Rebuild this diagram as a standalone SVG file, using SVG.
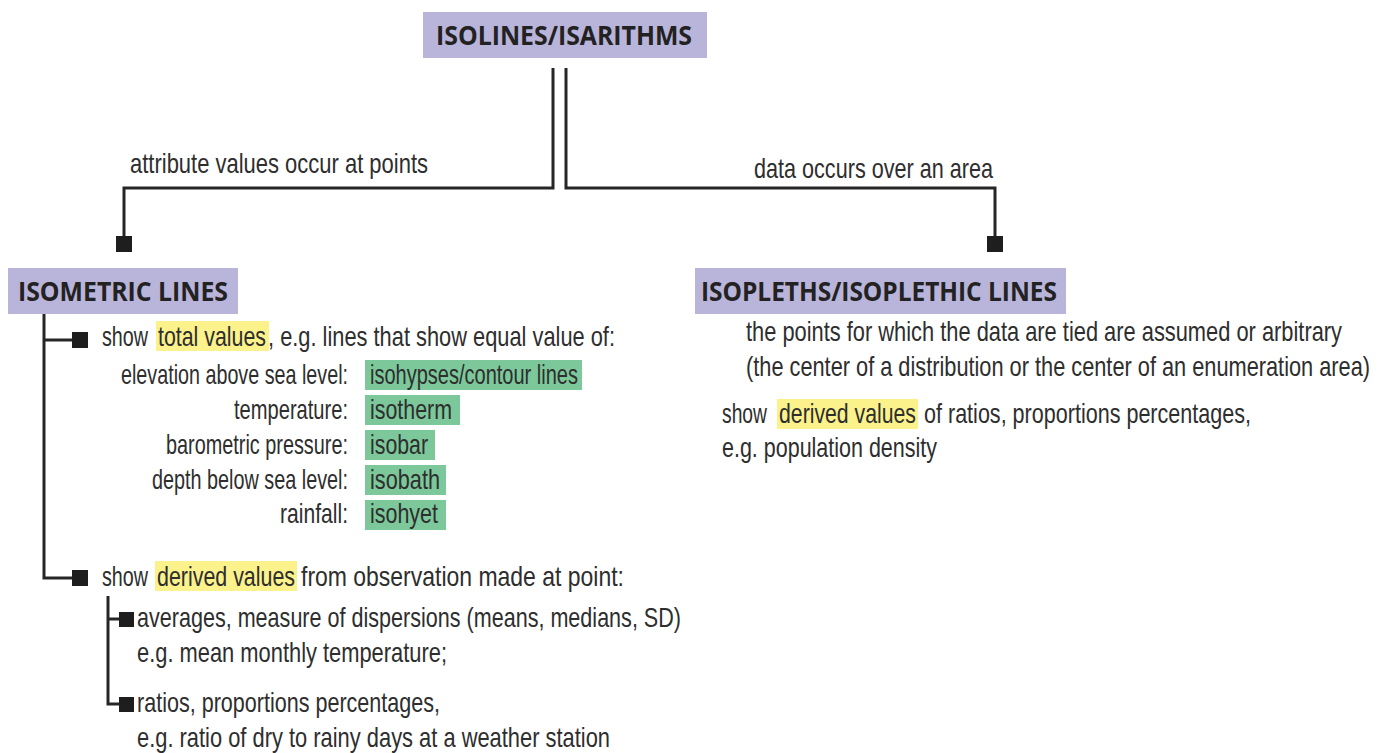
<svg xmlns="http://www.w3.org/2000/svg" width="1388" height="753" viewBox="0 0 1388 753">
<style>
.bg{fill:#ffffff}
.head{fill:#b9b4da}
.hl{fill:#fbf28c}
.gr{fill:#7cc89b}
.t{font-family:"Liberation Sans Narrow","Liberation Sans","DejaVu Sans Condensed",sans-serif;font-size:28px;fill:#2e2e2e}
.h{font-family:"Open Sans","Liberation Sans",sans-serif;font-weight:bold;font-size:26px;fill:#222222}
.ln{fill:none;stroke:#262626;stroke-width:3}
.sq{fill:#1e1e1e}
</style>
<rect class="bg" x="0" y="0" width="1388" height="753"/>
<g id="connectors">
<path class="ln" d="M553 68 V188 H124 V238"/>
<path class="ln" d="M566 68 V188 H995 V238"/>
<rect class="sq" x="116" y="236" width="16" height="16"/>
<rect class="sq" x="987" y="236" width="16" height="16"/>
<path class="ln" d="M44 314 V578 H74"/>
<path class="ln" d="M44 340 H74"/>
<rect class="sq" x="72" y="332" width="16" height="16"/>
<rect class="sq" x="72" y="570" width="16" height="16"/>
<path class="ln" d="M108 596 V704 H120"/>
<path class="ln" d="M108 619 H120"/>
<rect class="sq" x="119" y="612" width="15" height="15"/>
<rect class="sq" x="119" y="697" width="15" height="15"/>
<text class="t" x="130" y="173" textLength="298" lengthAdjust="spacingAndGlyphs">attribute values occur at points</text>
<text class="t" x="754" y="178" textLength="239" lengthAdjust="spacingAndGlyphs">data occurs over an area</text>
</g>
<g id="root">
<rect class="head" x="423" y="12" width="284" height="46"/>
<text class="h" x="436" y="45" textLength="256" lengthAdjust="spacingAndGlyphs">ISOLINES/ISARITHMS</text>
</g>
<g id="isometric">
<rect class="head" x="8" y="268" width="230" height="46"/>
<text class="h" x="18" y="301" textLength="210" lengthAdjust="spacingAndGlyphs">ISOMETRIC LINES</text>
</g>
<g id="isopleths">
<rect class="head" x="695" y="268" width="371" height="46"/>
<text class="h" x="701" y="301" textLength="356" lengthAdjust="spacingAndGlyphs">ISOPLETHS/ISOPLETHIC LINES</text>
</g>
<g id="total-values">
<rect class="hl" x="156" y="321" width="113" height="30"/>
<text class="t" x="102" y="346" textLength="46" lengthAdjust="spacingAndGlyphs">show</text>
<text class="t" x="158" y="346" textLength="108" lengthAdjust="spacingAndGlyphs">total values</text>
<text class="t" x="268" y="346" textLength="347" lengthAdjust="spacingAndGlyphs">, e.g. lines that show equal value of:</text>
<rect class="gr" x="365" y="360" width="217" height="30"/>
<rect class="gr" x="365" y="395" width="95" height="30"/>
<rect class="gr" x="365" y="430" width="70" height="30"/>
<rect class="gr" x="365" y="465" width="81" height="30"/>
<rect class="gr" x="365" y="500" width="81" height="30"/>
<text class="t" x="348" y="384" text-anchor="end" textLength="227" lengthAdjust="spacingAndGlyphs">elevation above sea level:</text>
<text class="t" x="348" y="419" text-anchor="end" textLength="114" lengthAdjust="spacingAndGlyphs">temperature:</text>
<text class="t" x="348" y="454" text-anchor="end" textLength="182" lengthAdjust="spacingAndGlyphs">barometric pressure:</text>
<text class="t" x="348" y="489" text-anchor="end" textLength="196" lengthAdjust="spacingAndGlyphs">depth below sea level:</text>
<text class="t" x="348" y="523" text-anchor="end" textLength="68" lengthAdjust="spacingAndGlyphs">rainfall:</text>
<text class="t" x="370" y="384" textLength="208" lengthAdjust="spacingAndGlyphs">isohypses/contour lines</text>
<text class="t" x="370" y="419" textLength="82" lengthAdjust="spacingAndGlyphs">isotherm</text>
<text class="t" x="370" y="454" textLength="58" lengthAdjust="spacingAndGlyphs">isobar</text>
<text class="t" x="370" y="489" textLength="70" lengthAdjust="spacingAndGlyphs">isobath</text>
<text class="t" x="370" y="523" textLength="68" lengthAdjust="spacingAndGlyphs">isohyet</text>
</g>
<g id="derived-values">
<rect class="hl" x="155" y="561" width="142" height="30"/>
<text class="t" x="102" y="586" textLength="46" lengthAdjust="spacingAndGlyphs">show</text>
<text class="t" x="157" y="586" textLength="138" lengthAdjust="spacingAndGlyphs">derived values</text>
<text class="t" x="301" y="586" textLength="323" lengthAdjust="spacingAndGlyphs">from observation made at point:</text>
</g>
<g id="averages">
<text class="t" x="137" y="627" textLength="544" lengthAdjust="spacingAndGlyphs">averages, measure of dispersions (means, medians, SD)</text>
<text class="t" x="137" y="662" textLength="310" lengthAdjust="spacingAndGlyphs">e.g. mean monthly temperature;</text>
</g>
<g id="ratios">
<text class="t" x="137" y="712" textLength="303" lengthAdjust="spacingAndGlyphs">ratios, proportions percentages,</text>
<text class="t" x="137" y="747" textLength="473" lengthAdjust="spacingAndGlyphs">e.g. ratio of dry to rainy days at a weather station</text>
</g>
<g id="isopleths-text">
<text class="t" x="746" y="341" textLength="596" lengthAdjust="spacingAndGlyphs">the points for which the data are tied are assumed or arbitrary</text>
<text class="t" x="746" y="376" textLength="624" lengthAdjust="spacingAndGlyphs">(the center of a distribution or the center of an enumeration area)</text>
<rect class="hl" x="777" y="399" width="141" height="30"/>
<text class="t" x="722" y="423" textLength="45" lengthAdjust="spacingAndGlyphs">show</text>
<text class="t" x="779" y="423" textLength="137" lengthAdjust="spacingAndGlyphs">derived values</text>
<text class="t" x="924" y="423" textLength="327" lengthAdjust="spacingAndGlyphs">of ratios, proportions percentages,</text>
<text class="t" x="722" y="457" textLength="215" lengthAdjust="spacingAndGlyphs">e.g. population density</text>
</g>
</svg>
